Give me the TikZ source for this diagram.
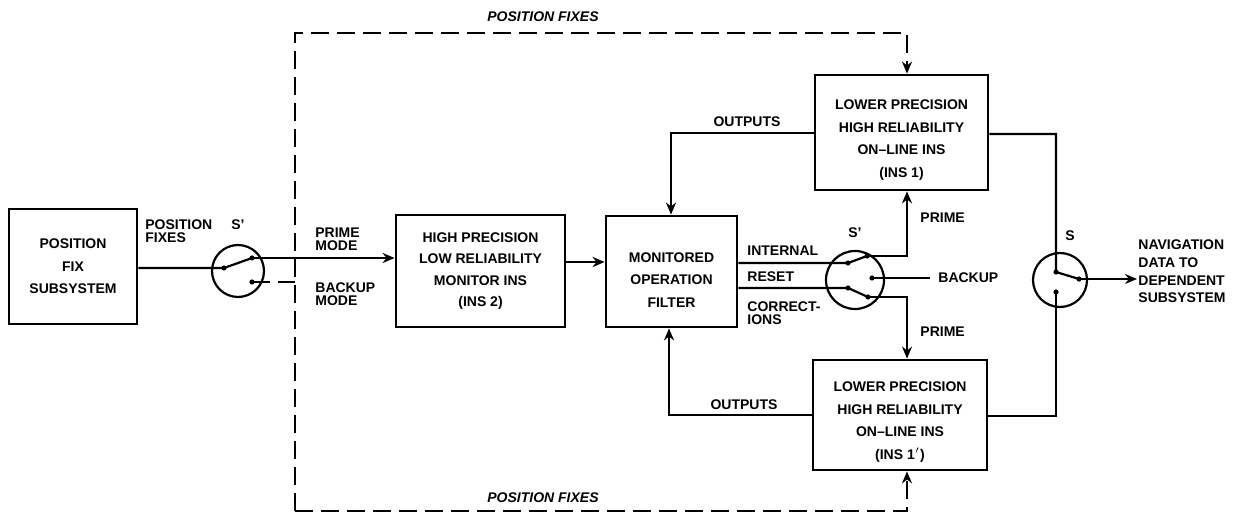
\documentclass[tikz,border=0pt]{standalone}
\usepackage{fontspec}
\setmainfont{Liberation Sans}
\usetikzlibrary{arrows.meta,calc}
\newcommand{\topstrut}[1]{\rule{0pt}{#1}}
\begin{document}
\begin{tikzpicture}[x=0.5pt,y=-0.5pt,
  font=\fontsize{7}{11.3}\selectfont\bfseries,
  box/.style={draw,line width=1.4pt,align=center,inner sep=0pt},
  sw/.style={draw,circle,line width=1.1pt,inner sep=0pt},
  wire/.style={line width=1.1pt},
  dwire/.style={line width=1.1pt,dash pattern=on 9pt off 4pt},
  arr/.style={-{Stealth[length=6pt,width=5pt]}},
  lbl/.style={inner sep=0pt,align=left,font=\fontsize{7}{6.6}\selectfont\bfseries},
  ital/.style={inner sep=0pt,font=\fontsize{7}{8}\selectfont\bfseries\itshape},
  ]
\useasboundingbox (0,0) rectangle (1246,517);

% boxes
\node[box,minimum width=64pt,minimum height=57.5pt] (pfs) at (73,266.5) {POSITION\\FIX\\SUBSYSTEM};
\node[box,minimum width=84.5pt,minimum height=56pt,font=\fontsize{7}{10.6}\selectfont\bfseries] (hp) at (480.5,271) {HIGH PRECISION\\LOW RELIABILITY\\MONITOR INS\\(INS 2)};
\node[box,minimum width=65.5pt,minimum height=55.5pt] (mof) at (671.5,271.5) {\topstrut{13.5pt}MONITORED\\OPERATION\\FILTER};
\node[box,minimum width=86.5pt,minimum height=57.5pt] (ins1) at (901.5,132.5) {\topstrut{12.5pt}LOWER PRECISION\\HIGH RELIABILITY\\ON--LINE INS\\(INS 1)};
\node[box,minimum width=87pt,minimum height=55pt] (ins1p) at (900,415) {\topstrut{12pt}LOWER PRECISION\\HIGH RELIABILITY\\ON--LINE INS\\(INS 1$'$)};

% switches
\node[sw,minimum size=26pt] (s1) at (238,271) {};
\node[sw,minimum size=29pt] (s2) at (855,280) {};
\node[sw,minimum size=27pt] (s3) at (1060,280) {};

% key points
\coordinate (s1p) at (224,268);
\coordinate (s1a) at (252,258);
\coordinate (s1b) at (252,282);
\coordinate (s2p1) at (848,263);
\coordinate (s2a) at (867,256);
\coordinate (s2p2) at (848,288);
\coordinate (s2b) at (868,297);
\coordinate (s2c) at (872,278);
\coordinate (bk) at (930,278);
\coordinate (s3p) at (1056,272);
\coordinate (s3a) at (1079,279);
\coordinate (s3b) at (1056,292);
\coordinate (r1) at (1056,134);
\coordinate (r2) at (1056,416);
\coordinate (nav) at (1137,279);
\coordinate (o1) at (671,133);
\coordinate (o2) at (669,415);
\coordinate (dtl) at (295,33);
\coordinate (dtr) at (907,33);
\coordinate (dbl) at (295,511);
\coordinate (dbr) at (907,511);
\coordinate (hpout) at (565,262);

% dashed position-fix loop
\draw[dwire,arr] (dbl) -- (dtl) -- (dtr) -- (ins1.north -| dtr);
\draw[dwire,arr] (dbl) -- (dbr) -- (ins1p.south -| dbr);

% left switch
\draw[wire] (pfs.east |- s1p) -- (s1p) -- (s1a);
\draw[wire,arr] (s1a) -- (s1a -| hp.west);
\draw[dwire] (s1b) -- (s1b -| dtl);

% hp -> filter
\draw[wire,arr] (hp.east |- hpout) -- (mof.west |- hpout);

% filter -> middle switch
\draw[wire] (mof.east |- s2p1) -- (s2p1) -- (s2a);
\draw[wire] (mof.east |- s2p2) -- (s2p2) -- (s2b);
\draw[wire] (s2c) -- (bk);
\draw[wire,arr] (s2a) -- (s2a -| dtr) -- (ins1.south -| dtr);
\draw[wire,arr] (s2b) -- (s2b -| dtr) -- (ins1p.north -| dtr);

% outputs back to filter
\draw[wire,arr] (ins1.west |- o1) -- (o1) -- (mof.north -| o1);
\draw[wire,arr] (ins1p.west |- o2) -- (o2) -- (mof.south -| o2);

% right switch
\draw[wire] (ins1.east |- r1) -- (r1) -- (s3p) -- (s3a);
\draw[wire] (ins1p.east |- r2) -- (r2) -- (s3b);
\draw[wire,arr] (s3a) -- (nav);

% contact dots
\foreach \p in {s1p,s1a,s1b,s2p1,s2a,s2p2,s2b,s2c,s3p,s3a,s3b}
  \fill (\p) circle (1.3pt);

% labels
\node[lbl,anchor=north west] (lpf) at (145,219) {POSITION\\FIXES};
\node[lbl,anchor=center] (ls1) at (238,225) {S'};
\node[lbl,anchor=north west] (lpm) at (315,227) {PRIME\\MODE};
\node[lbl,anchor=north west] (lbm) at (315,282) {BACKUP\\MODE};
\node[lbl,anchor=west] (lint) at (747,251) {INTERNAL};
\node[lbl,anchor=west] (lres) at (747,277) {RESET};
\node[lbl,anchor=north west] (lcor) at (747,301) {CORRECT-\\IONS};
\node[lbl,anchor=west] (lbk) at (938,278) {BACKUP};
\node[lbl,anchor=west] (lpr1) at (920,218) {PRIME};
\node[lbl,anchor=west] (lpr2) at (920,332) {PRIME};
\node[lbl,anchor=center] (ls2) at (855,233) {S'};
\node[lbl,anchor=center] (ls3) at (1070,236) {S};
\node[lbl,anchor=center] (lo1) at (747,122) {OUTPUTS};
\node[lbl,anchor=center] (lo2) at (744,405) {OUTPUTS};
\node[lbl,anchor=west,font=\fontsize{7}{8.85}\selectfont\bfseries] (lnav) at (1138,271.5) {NAVIGATION\\DATA TO\\DEPENDENT\\SUBSYSTEM};
\node[ital] (lpft) at (543,17) {POSITION FIXES};
\node[ital] (lpfb) at (543,498) {POSITION FIXES};
\end{tikzpicture}
\end{document}
